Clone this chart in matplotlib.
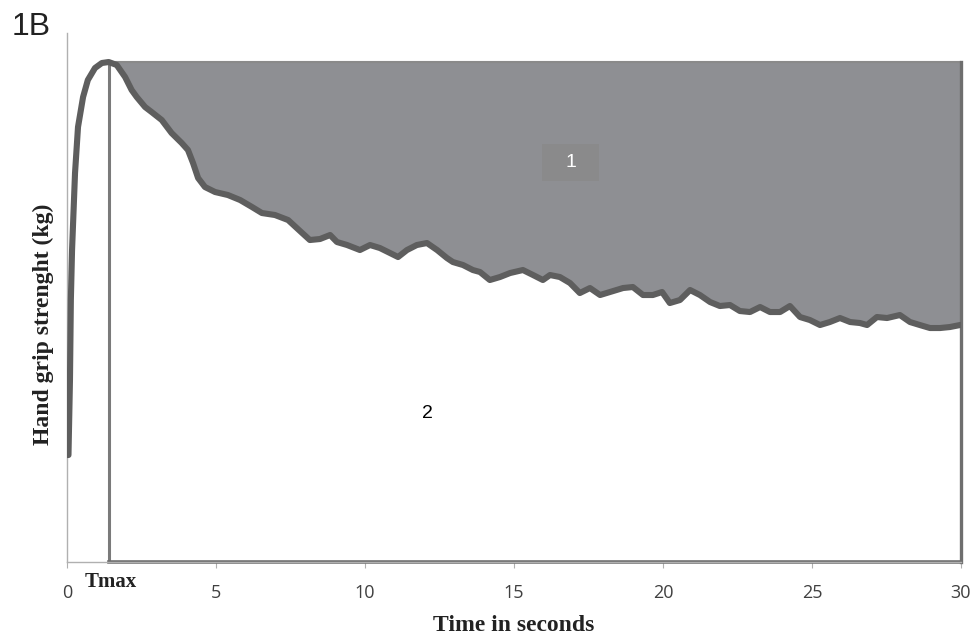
"""
Hand grip strength curve with fatigue area (figure 1B).
"""

import matplotlib
matplotlib.use('Agg')
import matplotlib.pyplot as plt
from matplotlib.patches import Rectangle
import numpy as np

# time (s) and grip force (kg, arbitrary scale)
time_s = [0.00, 0.05, 0.10, 0.13, 0.17, 0.27, 0.37, 0.54, 0.70, 0.94, 1.17, 1.40,
          1.67, 1.95, 2.17, 2.34, 2.62, 2.84, 3.18, 3.51, 3.85, 4.06, 4.23, 4.40,
          4.63, 4.97, 5.40, 5.81, 6.21, 6.54, 6.98, 7.42, 7.82, 8.15, 8.49, 8.83,
          9.06, 9.40, 9.83, 10.17, 10.50, 10.84, 11.11, 11.41, 11.74, 12.08, 12.42,
          12.75, 12.95, 13.29, 13.62, 13.86, 14.19, 14.53, 14.87, 15.30, 15.64,
          15.97, 16.21, 16.54, 16.88, 17.21, 17.55, 17.89, 18.22, 18.66, 18.99,
          19.33, 19.66, 19.97, 20.23, 20.57, 20.91, 21.24, 21.58, 21.91, 22.25,
          22.58, 22.92, 23.26, 23.59, 23.93, 24.26, 24.60, 24.93, 25.27, 25.60,
          25.94, 26.28, 26.61, 26.85, 27.18, 27.52, 27.95, 28.29, 28.62, 28.96,
          29.30, 29.63, 29.97, 30.00]
force_kg = [10.7, 10.7, 18.2, 26.2, 31.2, 38.9, 43.5, 46.5, 48.2, 49.4, 49.9, 50.0,
            49.7, 48.5, 47.2, 46.5, 45.5, 45.0, 44.2, 42.9, 41.9, 41.2, 39.9, 38.4,
            37.5, 37.0, 36.7, 36.2, 35.5, 34.9, 34.7, 34.2, 33.1, 32.2, 32.3, 32.7,
            32.0, 31.7, 31.2, 31.7, 31.4, 30.9, 30.5, 31.2, 31.7, 31.9, 31.2,
            30.4, 30.0, 29.7, 29.2, 29.0, 28.2, 28.5, 28.9, 29.2, 28.7,
            28.2, 28.7, 28.5, 27.9, 26.9, 27.4, 26.7, 27.0, 27.4, 27.5,
            26.7, 26.7, 27.0, 25.9, 26.2, 27.2, 26.7, 26.0, 25.6, 25.7,
            25.1, 25.0, 25.5, 25.0, 25.0, 25.6, 24.5, 24.2, 23.7, 24.0,
            24.4, 24.0, 23.9, 23.7, 24.5, 24.4, 24.7, 24.0, 23.7, 23.4,
            23.4, 23.5, 23.7, 23.7]
t_max = 1.40
f_max = 50.0
x_ticks = [0, 5, 10, 15, 20, 25, 30]

t = np.array(time_s)
f = np.array(force_kg)

fig = plt.figure(figsize=(9.75, 6.41), dpi=100)
ax = fig.add_axes([0.0687, 0.1232, 0.9169, 0.8253])
ax.set_xlim(0, 30)
ax.set_ylim(0, 52.9)

# area 1: lost force between Tmax level and the curve
after = t >= t_max
ax.fill_between(t[after], f[after], f_max, color='#8e8f93', lw=0, zorder=1)

# Tmax box
ax.plot([t_max, t_max], [0, f_max], color='#7a7a7a', lw=2.2, zorder=2)
ax.plot([t_max, 30], [f_max, f_max], color='#8a8a8a', lw=1.5, zorder=2)
ax.plot([30, 30], [0, f_max], color='#6e6e6e', lw=2.4, zorder=2, clip_on=False)
ax.plot([t_max, 30], [0, 0], color='#6e6e6e', lw=2.6, zorder=2, clip_on=False)

ax.plot(t, f, color='#5e5e5e', lw=4.4, solid_capstyle='round',
        solid_joinstyle='round', zorder=3)

for side in ('top', 'right'):
    ax.spines[side].set_visible(False)
for side in ('left', 'bottom'):
    ax.spines[side].set_color('#b0b0b0')
    ax.spines[side].set_linewidth(1.0)

ax.set_yticks([])
ax.set_xticks(x_ticks)
ax.tick_params(axis='x', direction='out', length=4, color='#b0b0b0',
               labelsize=13, labelcolor='#404040', pad=12)
for lab in ax.get_xticklabels():
    lab.set_fontfamily('Open Sans')

serif = 'Liberation Serif'
ax.text(1.48, -1.0, 'Tmax', ha='center', va='top', fontsize=15,
        fontweight='bold', family=serif, color='#222222')
ax.set_xlabel('Time in seconds', fontsize=17, fontweight='bold', family=serif,
              color='#222222', labelpad=9)
ax.set_ylabel('Hand grip strenght (kg)', fontsize=17, fontweight='bold',
              family=serif, color='#222222')
ax.yaxis.set_label_coords(-0.0145, 0.45)

ax.add_patch(Rectangle((15.95, 38.15), 1.91, 3.7, fc='#8a8a8b', ec='none', zorder=4))
ax.text(16.9, 40.0, '1', ha='center', va='center', fontsize=14, color='white',
        family='Liberation Sans', zorder=5)
ax.text(12.08, 14.9, '2', ha='center', va='center', fontsize=14, color='black',
        family='Liberation Sans', zorder=5)

fig.text(0.012, 0.982, '1B', ha='left', va='top', fontsize=23,
         family='Liberation Sans', color='#222222')

fig.savefig('out.png', dpi=100)
